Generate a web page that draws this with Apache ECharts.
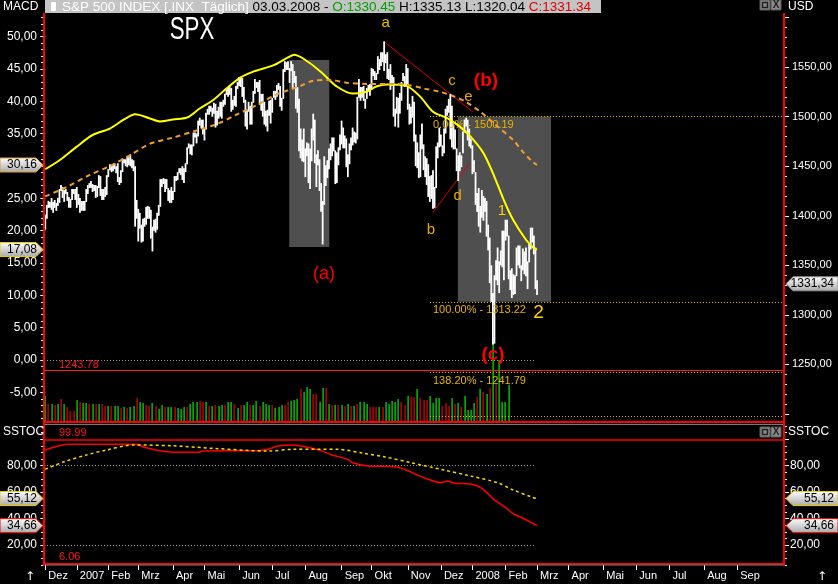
<!DOCTYPE html>
<html>
<head>
<meta charset="utf-8">
<script src="https://cdn.jsdelivr.net/npm/echarts@6.0.0/dist/echarts.min.js"></script>
<style>
html,body{margin:0;padding:0;background:#000;overflow:hidden}
#chart{width:838px;height:584px}
</style>
</head>
<body>
<div id="chart"></div>
<script>
// ================= DATA =================
// x axis: trading-day index, 0 = 1 Dec 2006
const monthStarts = [0,20,40,59,81,101,123,144,165,188,207,230,251,271,292,312,332,354,375,396,418,439];
const monthLabels = ['Dez','2007','Feb','Mrz','Apr','Mai','Jun','Jul','Aug','Sep','Okt','Nov','Dez','2008','Feb','Mrz','Apr','Mai','Jun','Jul','Aug','Sep'];

// daily highs (Dec 2006 .. 3 Mar 2008)
const priceHigh = [
 1401,1411,1415,1414,1418,1414,1416,1413,1418,1427,1431,1429,1426,1427,1424,1419,1417,1427,1427,1427,
 1429,1422,1418,1415,1415,1415,1427,1431,1433,1435,1432,1431,1431,1430,1441,1440,1427,1427,1429,1441,
 1447,1452,1450,1452,1453,1450,1453,1439,1446,1458,1457,1457,1460,1459,1462,1457,1456,1450,1416,
 1407,1403,1391,1397,1398,1409,1410,1409,1406,1389,1396,1397,1403,1411,1437,1437,1438,1437,1437,1428,1426,1429,
 1425,1440,1440,1444,1448,1448,1450,1448,1453,1469,1473,1472,1472,1484,1484,1483,1496,1499,1497,1497,
 1488,1504,1508,1511,1511,1509,1514,1513,1506,1510,1515,1515,1517,1523,1529,1529,1532,1529,1517,1521,1531,1535,
 1540,1540,1539,1530,1517,1507,1515,1511,1515,1526,1538,1535,1535,1537,1523,1523,1515,1506,1507,1516,1517,
 1519,1526,1526,1532,1534,1531,1519,1548,1556,1555,1556,1549,1556,1553,1546,1541,1530,1518,1488,1477,1488,
 1468,1474,1473,1468,1488,1503,1497,1462,1466,1457,1433,1415,1460,1451,1456,1468,1473,1479,1479,1466,1464,1469,1482,
 1496,1489,1481,1478,1462,1473,1479,1489,1485,1484,1520,1538,1530,1530,1531,1518,1529,1532,1533,
 1549,1548,1546,1544,1561,1558,1565,1565,1576,1563,1565,1548,1553,1542,1540,1508,1520,1519,1524,1535,1544,1541,1553,
 1549,1513,1510,1521,1515,1482,1474,1464,1482,1493,1472,1460,1458,1452,1440,1441,1446,1429,1470,1474,1489,
 1482,1471,1488,1508,1511,1518,1523,1511,1492,1487,1468,1461,1464,1461,1485,1497,1499,1497,1488,1478,
 1471,1456,1444,1423,1428,1410,1426,1420,1418,1415,1391,1378,1350,1322,1340,1355,1368,1354,1365,1385,1385,
 1396,1396,1380,1345,1347,1341,1340,1368,1370,1370,1350,1367,1364,1368,1354,1372,1388,1388,1380,1368,1335
];
// daily lows
const priceLow = [
 1386,1397,1408,1408,1406,1403,1408,1405,1410,1413,1425,1418,1414,1422,1415,1408,1408,1416,1422,1416,
 1408,1411,1403,1405,1405,1405,1414,1422,1428,1428,1424,1425,1418,1419,1428,1420,1416,1416,1419,1421,
 1439,1446,1444,1445,1447,1443,1434,1431,1433,1444,1453,1450,1449,1451,1450,1448,1445,1389,1397,
 1374,1387,1373,1374,1389,1391,1397,1397,1377,1364,1385,1383,1386,1400,1409,1429,1432,1424,1427,1415,1413,1413,
 1416,1424,1435,1436,1443,1441,1436,1433,1444,1452,1468,1462,1461,1470,1479,1473,1480,1491,1488,1482,
 1476,1487,1502,1502,1505,1500,1503,1489,1491,1498,1500,1498,1510,1512,1522,1520,1522,1505,1507,1511,1510,1528,
 1531,1530,1520,1514,1490,1487,1505,1492,1492,1514,1523,1529,1525,1512,1506,1500,1492,1490,1485,1501,1493,
 1504,1519,1517,1520,1527,1510,1506,1518,1545,1547,1547,1534,1546,1529,1534,1508,1504,1465,1458,1455,1454,
 1439,1460,1433,1427,1455,1476,1453,1429,1451,1425,1404,1371,1411,1430,1438,1447,1456,1460,1465,1432,1433,1451,1466,
 1472,1468,1468,1449,1439,1452,1466,1471,1474,1473,1477,1519,1516,1519,1516,1508,1518,1525,1521,
 1527,1541,1537,1537,1543,1547,1551,1555,1546,1554,1538,1537,1527,1531,1500,1490,1503,1489,1503,1516,1536,1530,1531,
 1507,1492,1493,1499,1475,1450,1448,1438,1439,1467,1446,1439,1431,1419,1414,1417,1407,1408,1428,1458,1469,
 1470,1460,1463,1483,1501,1504,1477,1469,1467,1467,1445,1435,1445,1449,1463,1484,1490,1476,1470,1468,
 1442,1444,1411,1404,1389,1383,1398,1395,1404,1379,1365,1332,1313,1270,1271,1335,1330,1322,1350,1348,1335,
 1375,1379,1336,1325,1317,1320,1321,1339,1350,1347,1334,1345,1341,1339,1326,1353,1366,1373,1361,1326,1320
];
const lastOpen = 1330.45, lastHigh = 1335.13, lastLow = 1320.04, lastClose = 1331.34;
const lastDate = '03.03.2008';

// volume (million shares), one bar every second trading day
const volumes = [
 2600,1800,1800,1700,1800,2300,1800,1500,1100,1100, 2200,2000,1900,1900,1800,1800,1800,1800,1800,1600,
 1600,1600,1600,1600,1400,1500,1400,1500,1600,2400, 2000,1900,1700,1600,1900,1600,1300,1700,1500,1500,
 1500,1500,1400,1300,1500,1500,1800,2000,2000,2100, 2000,2000,1600,1600,1700,1600,1700,1700,2000,2000,
 1800,1400,1700,1700,2000,1700,1700,2100,1600,2000, 1800,1700,1700,1400,1500,1700,1700,2000,2100,2200,
 2300,3300,3000,3500,3300,2800,2800,2000,3400,3400, 1800,1700,1700,1700,1700,1600,1800,1600,1600,1800,
 2000,2000,1800,1500,1500,1500,1500,1500,2000,1800, 2100,2000,2300,2000,1700,2600,2500,2500,3300,2400,
 2200,2200,2600,1900,2400,2400,1600,1900,1600,2400, 1800,1900,1500,2600,1200,1200,1900,2500,3300,3000,
 2800,3400,8500,3900,6200,2000,2000,3700
];
const volumeUp = [
 1,0,1,0,1,0,1,0,0,0, 1,0,1,1,0,1,0,1,0,0, 1,0,1,1,0,1,0,1,1,0, 1,1,0,0,1,0,1,1,0,1,
 1,0,1,1,1,0,1,1,1,0, 0,1,0,1,0,1,1,0,1,1, 0,1,0,1,1,0,1,1,0,1, 1,1,0,1,1,1,0,0,1,1,
 1,0,1,1,1,0,0,1,1,0, 1,0,1,0,1,0,1,0,1,0, 1,1,1,0,0,0,1,0,1,1, 1,1,1,0,0,1,0,0,1,0,
 0,0,1,1,1,1,0,0,0,1, 0,1,0,1,1,1,1,0,1,0, 1,0,1,0,1,1,1,1
];

// MACD panel (left axis)
const macdDays   = [0,9,20,30,41,50,57,66,73,81,90,98,107,115,124,132,145,154,158,168,176,185,195,204,210,217,229,238,246,255,263,270,278,284,291,297,305,310,312];
const macdValues = [29.5,30.9,33.0,34.8,35.8,37.2,38.0,37.4,36.9,37.2,37.5,38.9,40.3,42.0,43.7,44.6,45.6,46.8,47.2,45.9,44.3,42.3,41.2,41.5,42.3,42.6,42.4,40.7,38.4,37.4,36.1,34.5,32.0,28.9,24.7,21.6,18.6,17.3,17.08];
const signalDays   = [0,14,28,41,54,66,81,96,109,121,134,147,155,162,170,181,191,204,219,229,240,250,259,267,276,286,297,303,309,312];
const signalValues = [25.3,26.8,28.6,30.0,31.7,33.4,34.4,35.5,36.5,37.9,39.4,41.1,41.8,42.4,43.2,43.3,42.9,42.7,42.7,42.6,42.0,41.5,40.8,39.9,38.4,36.3,34.0,32.2,30.7,30.16];

// Slow stochastic
const stochKDays   = [0,15,58,63,70,83,97,100,134,141,148,157,165,175,182,192,195,205,222,229,236,243,251,255,260,270,277,285,292,297,302,310,312];
const stochKValues = [91.9,96.2,96.2,93.9,91.9,90.1,90.1,91.1,91.4,92.4,94.9,95.7,94.4,91.4,88.1,84.8,82.3,79.8,79.3,76.7,73.0,69.7,67.1,68.4,66.7,66.2,62.9,54.1,48.5,43.5,41.0,35.9,34.66];
const stochDDays   = [0,12,26,39,56,80,107,141,158,185,202,215,232,253,270,287,297,309,312];
const stochDValues = [77.3,83.0,88.1,91.9,95.7,95.1,93.1,91.1,92.4,92.4,89.4,86.8,82.3,76.7,72.2,67.1,61.6,56.1,55.12];
const stochMax = 99.99, stochMin = 6.06;

// Fibonacci levels
const fibNames  = ['0.00%','100.00%','138.20%','161.80%'];
const fibLevels = [1500.19, 1313.22, 1241.79, 1197.70];
const supportLevel = 1243.78;

// Elliott-wave captions: text, trading day, price
const waveText  = ['a','c','e','b','d','1','2','(a)','(b)','(c)'];
const waveDay   = [215.9, 258.0, 268.5, 244.7, 261.6, 289.8, 312.9, 176.8, 279.6, 284.1];
const wavePrice = [1595.1, 1536.0, 1519.9, 1385.7, 1420.5, 1405.3, 1301.9, 1341.3, 1536.0, 1259.5];

// ================= CHART =================
const FONT = 'Liberation Sans';
const X_MIN = -0.8, X_MAX = 468.7;
const fmt = v => v.toFixed(2).replace('.', ',');
const steps = (a, b, s) => { const r = []; for (let v = a; v <= b + 1e-9; v += s) r.push(+v.toFixed(4)); return r; };
const zip = (xs, ys) => xs.map((x, i) => [x, ys[i]]);

const chart = echarts.init(document.getElementById('chart'), null, {width: 838, height: 584});

function yAx(o) {
  return Object.assign({type: 'value', splitLine: {show: false}, axisLine: {show: false}}, o);
}
const tickStyle = {color: '#ffffff', width: 1};
const labStyle = {color: '#ffffff', fontFamily: FONT};

const option = {
  backgroundColor: '#000000',
  animation: false,
  textStyle: {fontFamily: FONT},
  grid: [
    {left: 44, top: 13, width: 740, height: 409},
    {left: 44, top: 426, width: 740, height: 139}
  ],
  xAxis: [
    {gridIndex: 0, type: 'value', min: X_MIN, max: X_MAX, show: false},
    {gridIndex: 1, type: 'value', min: X_MIN, max: X_MAX,
     axisLine: {show: false}, splitLine: {show: false},
     axisTick: {show: true, customValues: monthStarts, length: 5, lineStyle: tickStyle},
     axisLabel: Object.assign({customValues: monthStarts, fontSize: 11, align: 'left', margin: 5,
       formatter: v => ' ' + monthLabels[monthStarts.indexOf(v)]}, labStyle)}
  ],
  yAxis: [
    yAx({gridIndex: 0, position: 'left', min: -9.59, max: 53.67,
      axisTick: {show: true, customValues: steps(-5, 50, 5), length: 5, lineStyle: tickStyle},
      axisLabel: Object.assign({customValues: steps(-5, 50, 5), formatter: fmt, fontSize: 12, margin: 7}, labStyle)}),
    yAx({gridIndex: 0, position: 'left', min: -9.59, max: 53.67,
      axisTick: {show: true, customValues: steps(-9, 53, 1), length: 3, lineStyle: tickStyle},
      axisLabel: {show: false}}),
    yAx({gridIndex: 0, position: 'right', min: 1191.9, max: 1604.6,
      axisTick: {show: true, customValues: steps(1200, 1600, 50), length: 5, lineStyle: tickStyle},
      axisLabel: Object.assign({customValues: steps(1250, 1550, 50), formatter: fmt, fontSize: 11, margin: 8}, labStyle)}),
    yAx({gridIndex: 0, position: 'right', min: 1191.9, max: 1604.6,
      axisTick: {show: true, customValues: steps(1200, 1600, 10), length: 3, lineStyle: tickStyle},
      axisLabel: {show: false}}),
    yAx({gridIndex: 0, position: 'right', min: 0, max: 40900, show: false}),
    yAx({gridIndex: 1, position: 'left', min: 4.87, max: 110.04,
      axisTick: {show: true, customValues: [20, 40, 60, 80, 100], length: 5, lineStyle: tickStyle},
      axisLabel: Object.assign({customValues: [20, 40, 60, 80], formatter: fmt, fontSize: 12, margin: 7}, labStyle)}),
    yAx({gridIndex: 1, position: 'left', min: 4.87, max: 110.04,
      axisTick: {show: true, customValues: steps(5, 110, 5), length: 3, lineStyle: tickStyle},
      axisLabel: {show: false}}),
    yAx({gridIndex: 1, position: 'right', min: 4.87, max: 110.04,
      axisTick: {show: true, customValues: [20, 40, 60, 80, 100], length: 5, lineStyle: tickStyle},
      axisLabel: Object.assign({customValues: [20, 40, 60, 80], formatter: fmt, fontSize: 12, margin: 6}, labStyle)}),
    yAx({gridIndex: 1, position: 'right', min: 4.87, max: 110.04,
      axisTick: {show: true, customValues: steps(5, 110, 5), length: 3, lineStyle: tickStyle},
      axisLabel: {show: false}})
  ],
  series: []
};

const dotted = (c) => ({color: c, type: [1, 2], width: 1});
const fibColor = '#e8b400';

option.series.push({
  type: 'line', xAxisIndex: 0, yAxisIndex: 2, data: [], z: 1, silent: true,
  markArea: {silent: true, itemStyle: {color: '#4f4f4f'}, data: [
    [{coord: [154.8, 1557.2]}, {coord: [180.2, 1368.5]}],
    [{coord: [261.8, fibLevels[0]]}, {coord: [320.9, fibLevels[1]]}]
  ]}
});
option.series.push({
  type: 'line', xAxisIndex: 0, yAxisIndex: 2, data: [], z: 2, silent: true,
  markLine: {silent: true, symbol: ['none', 'none'], label: {show: false}, data: [
    ...fibLevels.map((lv, i) => [
      {coord: [244.1, lv], lineStyle: dotted(fibColor),
       label: {show: i < 3, position: 'insideStartBottom', distance: 3,
               formatter: fibNames[i] + ' - ' + lv.toFixed(2), color: fibColor, fontSize: 11, fontFamily: FONT}},
      {coord: [X_MAX, lv]}
    ]),
    {yAxis: supportLevel, lineStyle: {color: '#ff1a1a', type: 'solid', width: 1}},
    [{coord: [214.9, 1575.7], lineStyle: {color: '#e00000', type: 'solid', width: 1}}, {coord: [271.2, 1505.0]}],
    [{coord: [245.8, 1403.1], lineStyle: {color: '#e00000', type: 'solid', width: 1}}, {coord: [269.5, 1453.3]}]
  ]}
});
option.series.push({
  type: 'custom', xAxisIndex: 0, yAxisIndex: 4, z: 3, silent: true,
  data: volumes.map((v, i) => [i * 2, v, volumeUp[i]]),
  encode: {x: 0, y: 1},
  renderItem: (params, api) => {
    const b = api.coord([api.value(0), 0]);
    const t = api.coord([api.value(0), api.value(1)]);
    return {type: 'rect', shape: {x: Math.round(b[0]) - 0.5, y: t[1], width: 1.2, height: b[1] - t[1]},
            style: {fill: api.value(2) ? '#00f000' : '#f00000'}};
  }
});
option.series.push({
  type: 'custom', xAxisIndex: 0, yAxisIndex: 2, z: 5, silent: true,
  data: priceHigh.map((h, i) => [i, priceLow[i], h]),
  encode: {x: 0, y: [1, 2]},
  renderItem: (params, api) => {
    const lo = api.coord([api.value(0), api.value(1)]);
    const hi = api.coord([api.value(0), api.value(2)]);
    return {type: 'rect', shape: {x: lo[0] - 0.9, y: hi[1], width: 1.8, height: Math.max(1, lo[1] - hi[1])},
            style: {fill: '#ffffff'}};
  }
});
option.series.push({
  type: 'line', xAxisIndex: 0, yAxisIndex: 0, data: [], z: 2, silent: true,
  markLine: {silent: true, symbol: ['none', 'none'], label: {show: false}, data: [
    [{coord: [X_MIN, 0], lineStyle: dotted('#9a9a9a')}, {coord: [311, 0]}]
  ]}
});
option.series.push({
  type: 'line', xAxisIndex: 0, yAxisIndex: 0, z: 6, silent: true, showSymbol: false, smooth: 0.3,
  data: zip(macdDays, macdValues), lineStyle: {color: '#ffff00', width: 2}
});
option.series.push({
  type: 'line', xAxisIndex: 0, yAxisIndex: 0, z: 6, silent: true, showSymbol: false, smooth: 0.3,
  data: zip(signalDays, signalValues), lineStyle: {color: '#f0a030', width: 2, type: [5, 4]}
});
option.series.push({
  type: 'line', xAxisIndex: 1, yAxisIndex: 5, data: [], z: 2, silent: true,
  markLine: {silent: true, symbol: ['none', 'none'], label: {show: false}, data: [
    {yAxis: stochMax, lineStyle: {color: '#ff0000', type: 'solid', width: 1.5}},
    {yAxis: stochMin, lineStyle: {color: '#ff0000', type: 'solid', width: 2}},
    [{coord: [X_MIN, 80], lineStyle: dotted('#9a9a9a')}, {coord: [311, 80]}],
    [{coord: [X_MIN, 20], lineStyle: dotted('#9a9a9a')}, {coord: [311, 20]}]
  ]}
});
option.series.push({
  type: 'line', xAxisIndex: 1, yAxisIndex: 5, z: 6, silent: true, showSymbol: false, smooth: 0.3,
  data: zip(stochKDays, stochKValues), lineStyle: {color: '#ff0000', width: 1.5}
});
option.series.push({
  type: 'line', xAxisIndex: 1, yAxisIndex: 5, z: 6, silent: true, showSymbol: false, smooth: 0.3,
  data: zip(stochDDays, stochDValues), lineStyle: {color: '#ffd700', width: 1.5, type: [3, 3]}
});

chart.setOption(option);

// ================= DECORATIONS =================
const g = [];
const grad = () => new echarts.graphic.LinearGradient(0, 0, 0, 1,
  [{offset: 0, color: '#ffffff'}, {offset: 1, color: '#a9a9a9'}]);
function leftBox(y, t, stroke) {
  g.push({type: 'polygon', z: 100, shape: {points: [[0, y - 7], [36, y - 7], [43, y], [36, y + 7], [0, y + 7]]},
          style: {fill: grad(), stroke: stroke, lineWidth: 1}});
  g.push({type: 'text', z: 101, x: 37, y: y, style: {text: t, fill: '#000', font: '12px "Liberation Sans"', align: 'right', verticalAlign: 'middle'}});
}
function rightBox(y, t, stroke) {
  g.push({type: 'polygon', z: 100, shape: {points: [[838, y - 7], [793, y - 7], [786, y], [793, y + 7], [838, y + 7]]},
          style: {fill: grad(), stroke: stroke, lineWidth: 1}});
  g.push({type: 'text', z: 101, x: 834, y: y, style: {text: t, fill: '#000', font: '12px "Liberation Sans"', align: 'right', verticalAlign: 'middle'}});
}
function txt(x, y, t, fill, font, align) {
  g.push({type: 'text', z: 102, x: x, y: y, style: {text: t, fill: fill, font: font || '12px "Liberation Sans"', align: align || 'left', verticalAlign: 'middle'}});
}
function line(x1, y1, x2, y2, c, w) {
  g.push({type: 'line', z: 90, shape: {x1: x1, y1: y1, x2: x2, y2: y2}, style: {stroke: c, lineWidth: w}});
}
function icons(y) {
  g.push({type: 'rect', z: 100, shape: {x: 760, y: y, width: 10, height: 10}, style: {fill: '#8a8a8a', stroke: '#5a5a5a'}});
  g.push({type: 'rect', z: 101, shape: {x: 762.5, y: y + 2.5, width: 5, height: 5}, style: {fill: 'none', stroke: '#222', lineWidth: 1.5}});
  g.push({type: 'rect', z: 100, shape: {x: 771, y: y, width: 10, height: 10}, style: {fill: '#8a8a8a', stroke: '#5a5a5a'}});
  txt(776, y + 5.5, 'X', '#222', 'bold 10px "Liberation Sans"', 'center');
}

// header
const HF = '13.5px "Liberation Sans"';
g.push({type: 'rect', z: 95, shape: {x: 45, y: 0, width: 556, height: 13}, style: {fill: '#c4c4c4'}});
g.push({type: 'rect', z: 96, shape: {x: 51, y: 2, width: 5, height: 9, r: 1}, style: {fill: '#ffffff'}});
g.push({type: 'text', z: 97, x: 62, y: 7, style: {
  text: '{w|S&P 500 INDEX [.INX  Täglich]} {k|' + lastDate + ' - }{gr|O:' + lastOpen.toFixed(2) + '} {k|H:' + lastHigh.toFixed(2) + ' L:' + lastLow.toFixed(2) + '} {r|C:' + lastClose.toFixed(2) + '}',
  font: HF, verticalAlign: 'middle',
  rich: {w: {fill: '#ffffff', font: HF}, k: {fill: '#000000', font: HF},
         gr: {fill: '#00a000', font: HF}, r: {fill: '#e00000', font: HF}}
}});
txt(3, 7, 'MACD', '#ffffff');
txt(788, 7, 'USD', '#ffffff');
icons(0);
g.push({type: 'text', z: 102, x: 192, y: 30, scaleX: 0.72, originX: 0, originY: 0,
  style: {text: 'SPX', fill: '#ffffff', font: '31px "Liberation Sans"', align: 'center', verticalAlign: 'middle'}});

// panel frames
line(44, 422, 784, 422, '#ff0000', 2);
line(44, 424.5, 784, 424.5, '#7a7a7a', 1);
line(44, 565, 784, 565, '#7a7a7a', 1);
line(44, 13, 44, 566, '#ff0000', 2);
line(784, 13, 784, 566, '#ff0000', 2);
txt(3, 432, 'SSTOC', '#ffffff');
txt(788, 432, 'SSTOC', '#ffffff');
icons(427);
txt(30, 577, '↑', '#ffffff', '12px "DejaVu Sans"', 'center');
txt(822, 577, '↑', '#ffffff', '12px "DejaVu Sans"', 'center');

const pyPrice = v => chart.convertToPixel({yAxisIndex: 2}, v);
const pyMacd = v => chart.convertToPixel({yAxisIndex: 0}, v);
const pyStoch = v => chart.convertToPixel({yAxisIndex: 5}, v);

// wave captions (positioned through the price scale)
const waveStyle = [
  ['#f0c000', '15px'], ['#eaa800', '15px'], ['#eaa800', '15px'], ['#eaa800', '15px'], ['#eaa800', '15px'],
  ['#ffd200', '15px'], ['#ffd200', '19px'], ['#ff0000', '18px'], ['#ff0000', 'bold 19px'], ['#ff0000', 'bold 19px']
];
waveText.forEach((t, i) => {
  const p = chart.convertToPixel({xAxisIndex: 0, yAxisIndex: 2}, [waveDay[i], wavePrice[i]]);
  g.push({type: 'text', z: 110, x: p[0], y: p[1], style: {text: t, fill: waveStyle[i][0],
    font: waveStyle[i][1] + ' "Liberation Sans"', align: 'center', verticalAlign: 'middle'}});
});

// level captions
txt(59, pyPrice(supportLevel) - 6, supportLevel.toFixed(2), '#ff1a1a', '11px "Liberation Sans"');
txt(59, pyStoch(stochMax) - 6, stochMax.toFixed(2), '#ff1a1a', '11px "Liberation Sans"');
txt(59, pyStoch(stochMin) - 6, stochMin.toFixed(2), '#ff1a1a', '11px "Liberation Sans"');

// current-value boxes
const sigLast = signalValues[signalValues.length - 1];
const macdLast = macdValues[macdValues.length - 1];
const kLast = stochKValues[stochKValues.length - 1];
const dLast = stochDValues[stochDValues.length - 1];
leftBox(pyMacd(sigLast), fmt(sigLast), '#e0a020');
leftBox(pyMacd(macdLast), fmt(macdLast), '#f0d000');
rightBox(pyPrice(lastClose), fmt(lastClose), '#909090');
leftBox(pyStoch(dLast), fmt(dLast), '#f0d000');
leftBox(pyStoch(kLast), fmt(kLast), '#ff0000');
rightBox(pyStoch(dLast), fmt(dLast), '#f0d000');
rightBox(pyStoch(kLast), fmt(kLast), '#ff0000');

chart.setOption({graphic: g});
</script>
</body>
</html>
